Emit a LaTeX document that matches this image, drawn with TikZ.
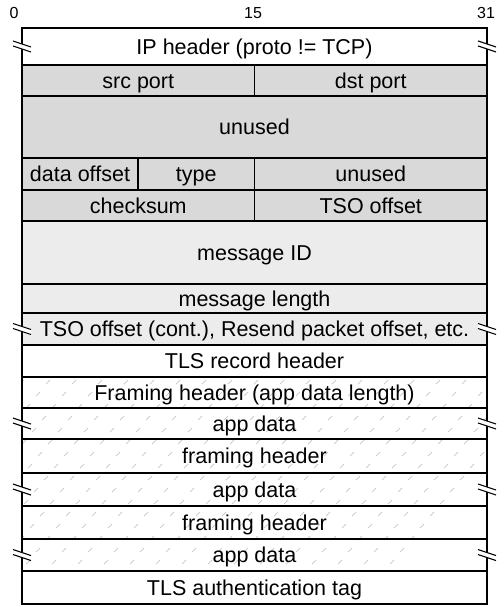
\documentclass[tikz,border=0pt]{standalone}
\usepackage{fontspec}
\setmainfont{Liberation Sans}
\usetikzlibrary{backgrounds}

\definecolor{hdrgray}{HTML}{D9D9D9}
\definecolor{msggray}{HTML}{ECECEC}

\begin{document}
\begin{tikzpicture}[x=1pt, y=-1pt,
    field/.style = {draw, line width=1.1pt, rectangle, anchor=north west, inner sep=0pt, outer sep=0pt,
                    font=\fontsize{21.5}{24}\selectfont, text height=15.5pt, text depth=0pt},
    hdr/.style = {field, fill=hdrgray},
    msg/.style = {field, fill=msggray},
    bitnum/.style = {font=\fontsize{16}{18}\selectfont, inner sep=0pt}]

    \useasboundingbox (0,0) rectangle (503,607);

    % bit numbers
    \node[bitnum] (b0) at (14,13) {0};
    \node[bitnum] (b15) at (253,13) {15};
    \node[bitnum] (b31) at (486,13) {31};

    % IP part
    \node[field, minimum width=465pt, minimum height=37pt] (ip) at (22,28) {IP header (proto != TCP)};

    % TSO header
    \node[hdr, minimum width=232.5pt, minimum height=31pt] (src) at (22,65) {src port};
    \node[hdr, minimum width=232.5pt, minimum height=31pt] (dst) at (254.5,65) {dst port};
    \node[hdr, minimum width=465pt, minimum height=62pt] (unused1) at (22,96) {unused};
    \node[hdr, minimum width=116pt, minimum height=32pt] (doff) at (22,158) {data offset};
    \node[hdr, minimum width=116.5pt, minimum height=32pt] (type) at (138,158) {type};
    \node[hdr, minimum width=232.5pt, minimum height=32pt] (unused2) at (254.5,158) {unused};
    \node[hdr, minimum width=232.5pt, minimum height=31pt] (csum) at (22,190) {checksum};
    \node[hdr, minimum width=232.5pt, minimum height=31pt] (tsooff) at (254.5,190) {TSO offset};
    \node[msg, minimum width=465pt, minimum height=63pt] (msgid) at (22,221) {message ID};
    \node[msg, minimum width=465pt, minimum height=29pt] (msglen) at (22,284) {message length};
    \node[msg, minimum width=465pt, minimum height=32pt] (tso) at (22,313) {TSO offset (cont.), Resend packet offset, etc.};

    % TLS record
    \node[field, minimum width=465pt, minimum height=32pt] (tlshdr) at (22,345) {TLS record header};
    \node[field, minimum width=465pt, minimum height=31pt] (frame1) at (22,377) {Framing header (app data length)};
    \node[field, minimum width=465pt, minimum height=31pt] (app1) at (22,408) {app data};
    \node[field, minimum width=465pt, minimum height=34pt] (frame2) at (22,439) {framing header};
    \node[field, minimum width=465pt, minimum height=33pt] (app2) at (22,473) {app data};
    \node[field, minimum width=465pt, minimum height=33pt] (frame3) at (22,506) {framing header};
    \node[field, minimum width=465pt, minimum height=32pt] (app3) at (22,539) {app data};
    \node[field, minimum width=465pt, minimum height=33pt] (tag) at (22,571) {TLS authentication tag};

    % hatching behind the encrypted part
    \begin{scope}[on background layer]
        \clip (frame1.north west) rectangle (app3.south east);
        \foreach \j in {0,...,17} {
            \foreach \i in {-1,...,20} {
                \draw[gray!45, line width=0.7pt] (22+26*\i-10*\j-2, 382+12*\j+2) -- ++(4,-4);
            }
        }
    \end{scope}

    % break marks
    \foreach \n in {ip, tso, app1, app2, app3} {
        \foreach \s in {west, east} {
            \fill[white] ([shift={(-9,-5.5)}]\n.\s) -- ++(18,6) -- ++(0,5) -- ++(-18,-6) -- cycle;
            \draw[line width=1.1pt] ([shift={(-9,-5.5)}]\n.\s) -- ++(18,6);
            \draw[line width=1.1pt] ([shift={(-9,-0.5)}]\n.\s) -- ++(18,6);
        }
    }

\end{tikzpicture}
\end{document}
